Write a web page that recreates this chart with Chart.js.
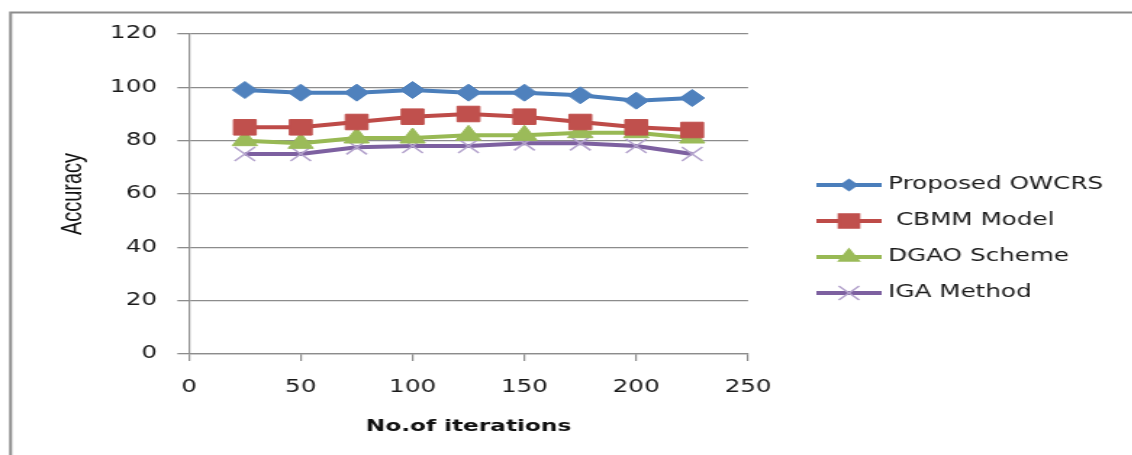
<!DOCTYPE html>
<html>
<head>
<meta charset="utf-8">
<script src="https://cdn.jsdelivr.net/npm/chart.js@4.4.1/dist/chart.umd.min.js"></script>
<style>
  html, body { margin: 0; padding: 0; background: #fff; overflow: hidden; }
  /* the original picture is stretched sideways, so the whole canvas is too */
  #wrap { width: 781px; height: 455px; transform: scaleX(1.45); transform-origin: 0 0; }
</style>
</head>
<body>
<div id="wrap"><canvas id="my-chart" width="781" height="455"></canvas></div>
<script>
// data
const iterations = [25, 50, 75, 100, 125, 150, 175, 200, 225];
const owcrs = [99, 98, 98, 99, 98, 98, 97, 95, 96];
const cbmm = [85, 85, 87, 89, 90, 89, 87, 85, 84];
const dgao = [80, 79, 81, 81, 82, 82, 83, 83, 81];
const iga = [75, 75, 77.5, 78, 78, 79, 79, 78, 75];
const seriesNames = ['Proposed OWCRS', ' CBMM Model', 'DGAO Scheme', 'IGA Method'];
const xTicks = [0, 50, 100, 150, 200, 250];
const yTicks = [0, 20, 40, 60, 80, 100, 120];

const lineColors = ['#4a7ebb', '#be4b48', '#98b954', '#7d60a0'];
const markColors = ['#4f81bd', '#c0504d', '#9bbb59', '#b3a2cc'];
const markStyles = ['rectRot', 'rect', 'triangle', 'crossRot'];
const markSizes = [8.5, 11, 10, 10];
const legendMarkSizes = [5.5, 10, 8, 10];

function points(values) {
  return iterations.map((x, i) => ({ x: x, y: values[i] }));
}

// little line + marker picture for each legend entry
function legendIcon(i) {
  const c = document.createElement('canvas');
  c.width = 45;
  c.height = 24;
  const ctx = c.getContext('2d');
  ctx.strokeStyle = lineColors[i];
  ctx.lineWidth = 4;
  ctx.beginPath();
  ctx.moveTo(0, 12);
  ctx.lineTo(45, 12);
  ctx.stroke();
  ctx.fillStyle = markColors[i];
  ctx.strokeStyle = markColors[i];
  ctx.lineWidth = 1.5;
  Chart.helpers.drawPoint(ctx, { pointStyle: markStyles[i], radius: legendMarkSizes[i], borderWidth: 1.5, rotation: 0 }, 22.5, 12);
  return c;
}
const icons = [0, 1, 2, 3].map(legendIcon);

const allSeries = [owcrs, cbmm, dgao, iga];
const datasets = allSeries.map((vals, i) => ({
  label: seriesNames[i],
  data: points(vals),
  borderColor: lineColors[i],
  borderWidth: 4,
  backgroundColor: markColors[i],
  pointStyle: markStyles[i],
  pointRadius: markSizes[i],
  pointBackgroundColor: markColors[i],
  pointBorderColor: markColors[i],
  pointBorderWidth: i === 3 ? 1.5 : 1,
  tension: 0,
  fill: false
}));

const frameAndLegend = {
  id: 'frameAndLegend',
  afterLayout(chart) {
    const lg = chart.legend;
    const pad = lg.options.labels.padding;
    lg.left = 567 - pad;
    lg.right = chart.width;
    lg.top = 176.5 - pad;
    lg.bottom = chart.height;
    lg.width = lg.right - lg.left;
    lg.height = lg.bottom - lg.top;
  },
  beforeDraw(chart) {
    const ctx = chart.ctx;
    ctx.save();
    ctx.strokeStyle = '#8c8c8c';
    ctx.lineWidth = 2;
    ctx.beginPath();
    ctx.moveTo(7.3, chart.height);
    ctx.lineTo(7.3, 12.5);
    ctx.lineTo(chart.width, 12.5);
    ctx.stroke();
    ctx.restore();
  }
};

const tickFont = { family: 'DejaVu Sans', size: 17 };

const ctx = document.getElementById('my-chart').getContext('2d');
const chart = new Chart(ctx, {
  type: 'line',
  data: { datasets: datasets },
  options: {
    responsive: false,
    animation: false,
    layout: { padding: { top: 34, left: 0, right: 781 - 515.9, bottom: 0 } },
    scales: {
      x: {
        type: 'linear',
        min: 0,
        max: 250,
        afterBuildTicks(scale) { scale.ticks = xTicks.map(v => ({ value: v })); },
        ticks: { padding: 16, color: '#1a1a1a', font: tickFont },
        grid: { drawOnChartArea: false, drawTicks: true, tickLength: 7, color: '#8c8c8c', lineWidth: 1.2 },
        border: { display: true, color: '#8c8c8c', width: 1.2 },
        title: {
          display: true,
          text: 'No.of iterations',
          color: '#111',
          font: { family: 'DejaVu Sans', size: 16, weight: 'bold' },
          padding: { top: 0, bottom: 19 }
        },
        afterFit(scale) { scale.height = 455 - 354; }
      },
      y: {
        min: 0,
        max: 120,
        afterBuildTicks(scale) { scale.ticks = yTicks.map(v => ({ value: v })); },
        ticks: { padding: 14, color: '#1a1a1a', font: tickFont },
        grid: { color: '#8c8c8c', lineWidth: 1.3, tickLength: 8 },
        border: { display: true, color: '#8c8c8c', width: 1.2 },
        title: {
          display: true,
          text: 'Accuracy',
          color: '#111',
          font: { family: "'Liberation Sans Narrow', 'Liberation Sans', sans-serif", size: 20 },
          padding: { top: 38, bottom: 0 }
        },
        afterFit(scale) { scale.width = 130.3; }
      }
    },
    plugins: {
      tooltip: { enabled: false },
      legend: {
        position: 'chartArea',
        align: 'start',
        labels: {
          usePointStyle: true,
          pointStyleWidth: 37,
          padding: 19,
          color: '#1a1a1a',
          font: { family: 'DejaVu Sans', size: 17 },
          generateLabels(chart) {
            const items = Chart.defaults.plugins.legend.labels.generateLabels(chart);
            items.forEach((it, i) => { it.pointStyle = icons[i]; });
            return items;
          }
        }
      }
    }
  },
  plugins: [frameAndLegend]
});
</script>
</body>
</html>
